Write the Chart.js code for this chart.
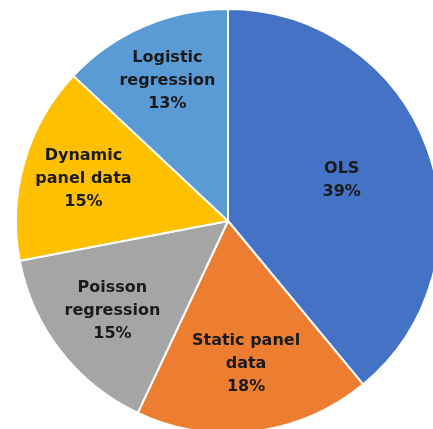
<!DOCTYPE html>
<html>
<head>
<meta charset="utf-8">
<script src="https://cdn.jsdelivr.net/npm/chart.js@4.4.0/dist/chart.umd.min.js"></script>
<style>
  html, body { margin: 0; padding: 0; background: #fff; }
  #wrap { width: 433px; height: 429px; }
</style>
</head>
<body>
<div id="wrap"><canvas id="c"></canvas></div>
<script>
// categories, each one split in the lines shown in the slice
var categories = [['OLS'], ['Static panel', 'data'], ['Poisson', 'regression'], ['Dynamic', 'panel data'], ['Logistic', 'regression']];
var shares = [39, 18, 15, 15, 13];
var colors = ['#4472C4', '#ED7D31', '#A5A5A5', '#FFC000', '#5B9BD5'];

// draw the labels inside each slice
var sliceLabels = {
    id: 'sliceLabels',
    afterDatasetsDraw: function(chart, args, opts) {
        var ctx = chart.ctx;
        var meta = chart.getDatasetMeta(0);
        ctx.save();
        ctx.font = opts.font;
        ctx.fillStyle = opts.color;
        ctx.textAlign = 'center';
        ctx.textBaseline = 'middle';
        meta.data.forEach(function(arc, i) {
            var p = arc.getProps(['x', 'y', 'startAngle', 'endAngle', 'outerRadius'], true);
            var mid = (p.startAngle + p.endAngle) / 2;
            var r = p.outerRadius * opts.ratio[i];
            var cx = p.x + Math.cos(mid) * r;
            var cy = p.y + Math.sin(mid) * r;
            var lines = chart.data.labels[i].concat([chart.data.datasets[0].data[i] + '%']);
            var top = cy - (lines.length - 1) * opts.lineHeight / 2;
            lines.forEach(function(line, j) {
                ctx.fillText(line, cx, top + j * opts.lineHeight);
            });
        });
        ctx.restore();
    }
};

new Chart(document.getElementById('c'), {
    type: 'pie',
    data: {
        labels: categories,
        datasets: [{
            data: shares,
            backgroundColor: colors,
            borderColor: '#ffffff',
            borderWidth: 2
        }]
    },
    options: {
        responsive: true,
        maintainAspectRatio: false,
        animation: false,
        radius: 212,
        layout: { padding: { left: 23, top: 13, right: 0, bottom: 0 } },
        plugins: {
            legend: { display: false },
            tooltip: { enabled: false },
            sliceLabels: {
                font: 'bold 16px "DejaVu Sans", Verdana, sans-serif',
                color: '#1a1a1a',
                lineHeight: 23,
                ratio: [0.57, 0.68, 0.69, 0.71, 0.72]
            }
        }
    },
    plugins: [sliceLabels]
});
</script>
</body>
</html>
